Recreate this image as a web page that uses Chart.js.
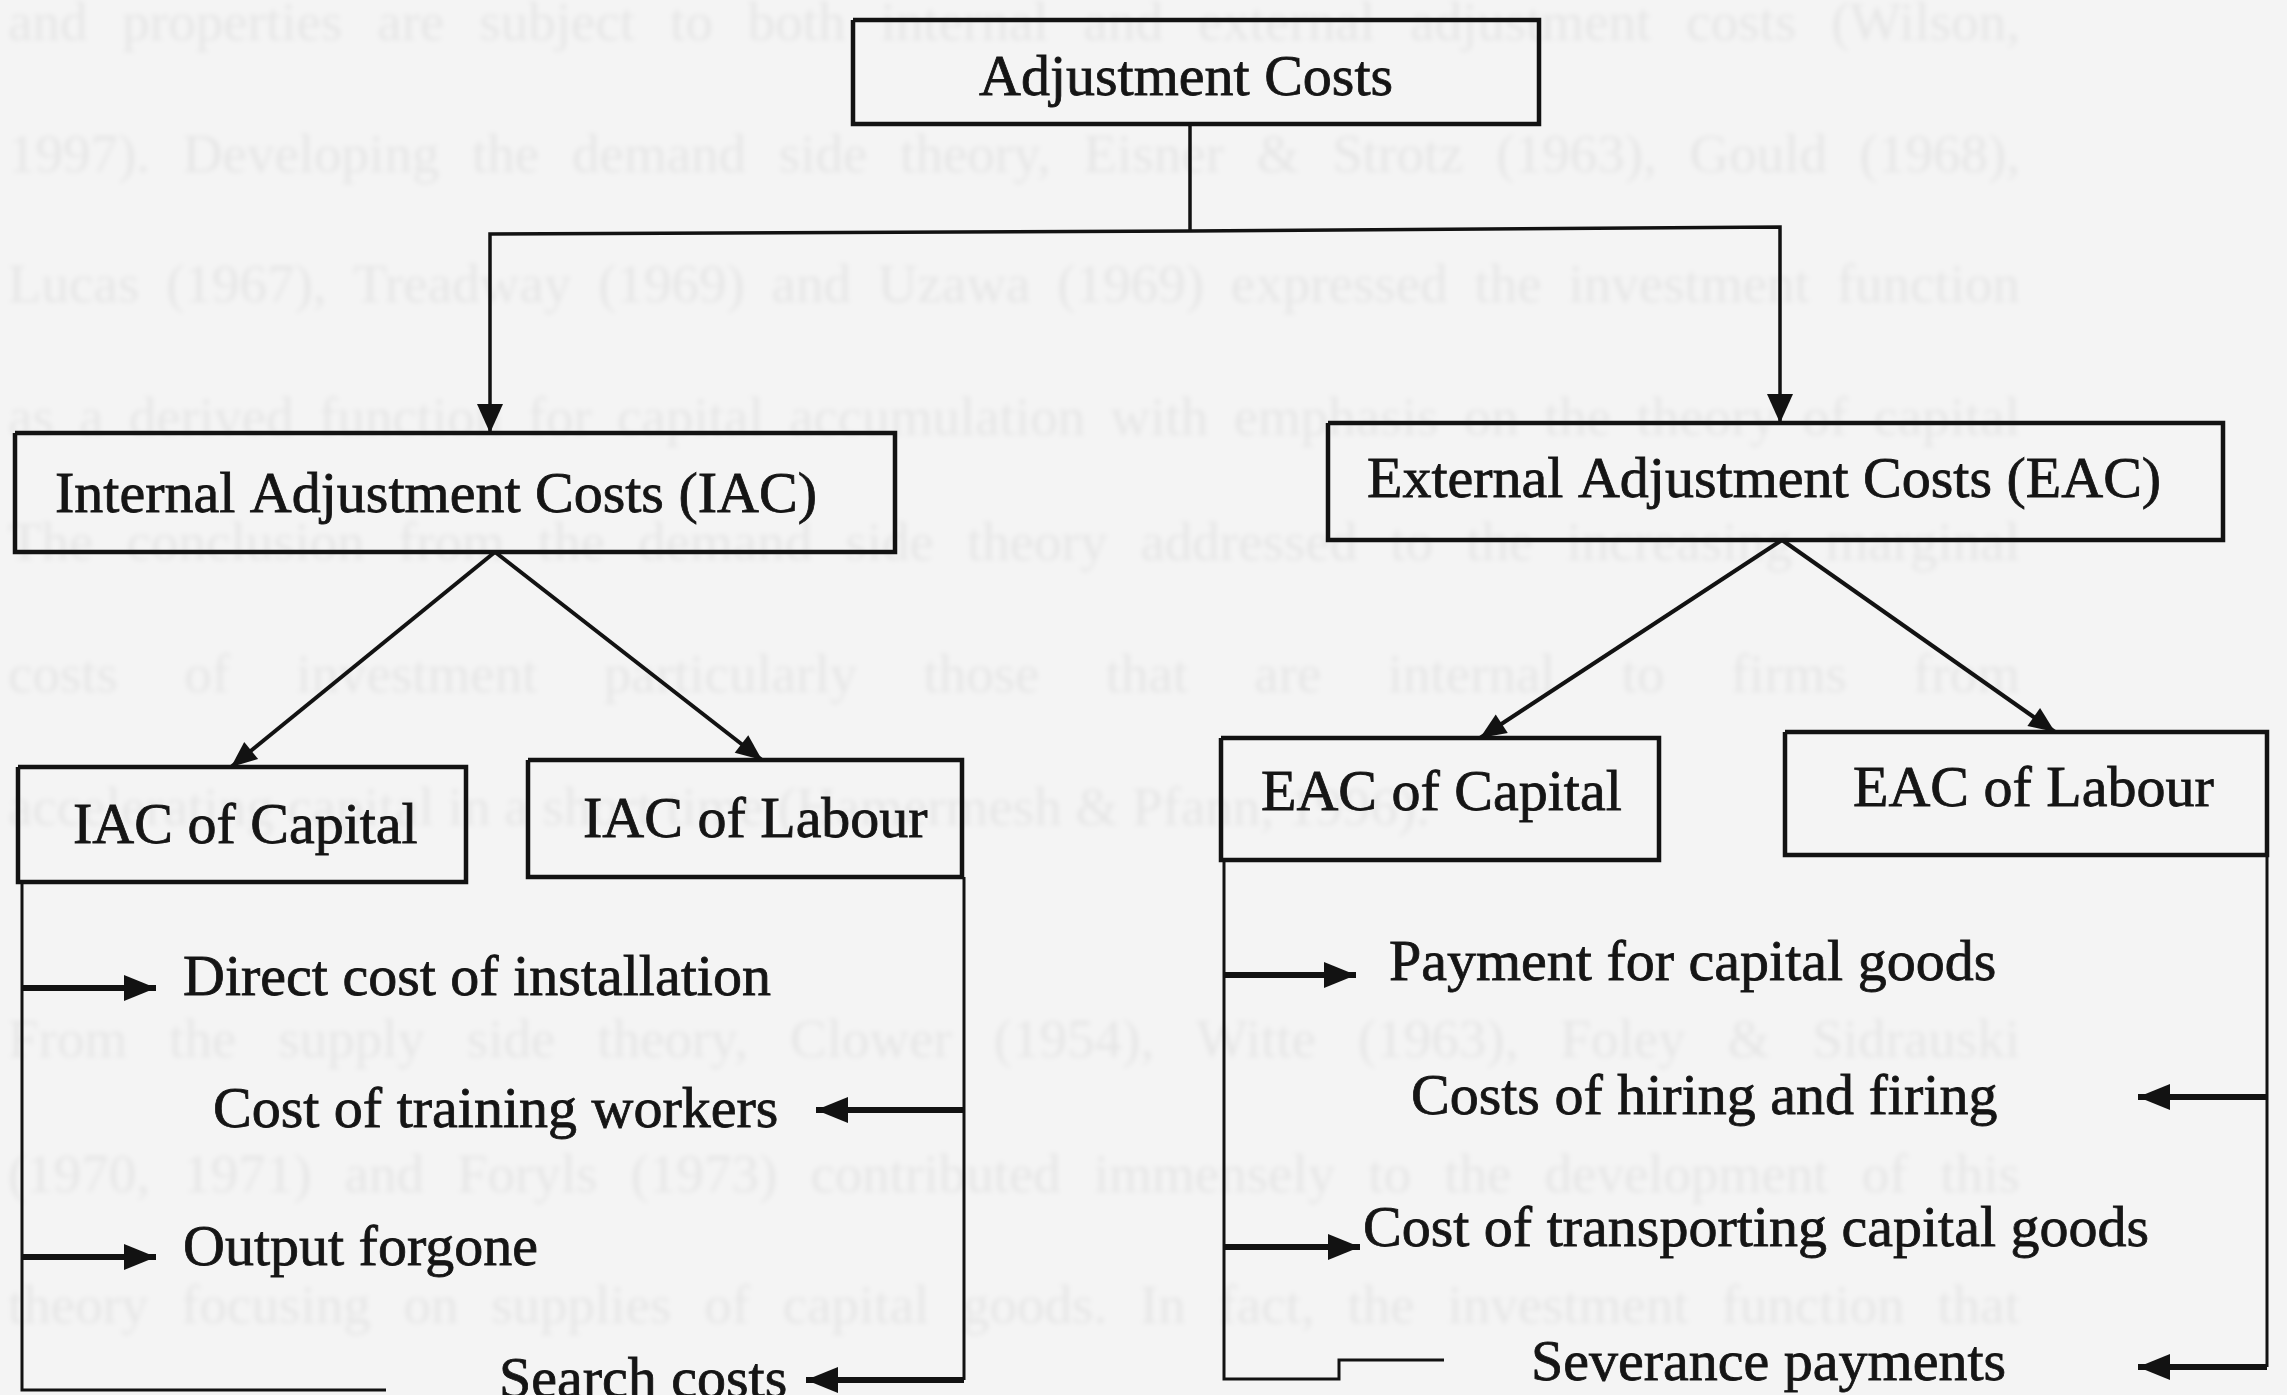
<!DOCTYPE html>
<html>
<head>
<meta charset="utf-8">
<script src="https://cdn.jsdelivr.net/npm/chart.js@4.4.1/dist/chart.umd.min.js"></script>
<style>
html,body{margin:0;padding:0;background:#f4f4f4;overflow:hidden}
canvas{display:block}
</style>
</head>
<body>
<canvas id="c" width="2287" height="1395"></canvas>
<script>
// ---------- DATA (diagram coordinates) ----------
const boxLabels = ['Adjustment Costs', 'Internal Adjustment Costs (IAC)', 'External Adjustment Costs (EAC)',
  'IAC of Capital', 'IAC of Labour', 'EAC of Capital', 'EAC of Labour'];
const boxLeft   = [853, 15, 1328, 18, 528, 1221, 1785];
const boxTop    = [20, 433, 423, 767, 760, 738, 732];
const boxRight  = [1539, 895, 2223, 466, 962, 1659, 2267];
const boxBottom = [124, 552, 540, 882, 877, 860, 855];
const boxTextX  = [979, 55, 1367, 73, 583, 1261, 1853];
const boxTextY  = [95, 512, 497, 843, 837, 810, 806];

// tree links: polylines, arrowhead at last point when branchArrow is true
const branchPaths = [
  [[1190, 124], [1190, 231]],
  [[1190, 231], [490, 234], [490, 433]],
  [[1190, 231], [1780, 227], [1780, 423]],
  [[495, 552], [231, 767]],
  [[495, 552], [762, 760]],
  [[1782, 540], [1480, 738]],
  [[1782, 540], [2055, 732]]
];
const branchArrow = [false, true, true, true, true, true, true];

// brackets under the sub-boxes
const bracketPaths = [
  [[22, 882], [22, 1390], [386, 1390]],
  [[964, 877], [964, 1380]],
  [[1224, 860], [1224, 1379], [1339, 1379], [1339, 1360], [1444, 1360]],
  [[2267, 855], [2267, 1367]]
];

// cost items
const itemLabels = ['Direct cost of installation', 'Cost of training workers', 'Output forgone', 'Search costs',
  'Payment for capital goods', 'Costs of hiring and firing', 'Cost of transporting capital goods', 'Severance payments'];
const itemTextX = [183, 213, 183, 499, 1389, 1411, 1363, 1531];
const itemTextY = [995, 1127, 1265, 1397, 980, 1114, 1246, 1380];
const itemFromX = [22, 964, 22, 964, 1224, 2267, 1224, 2267];
const itemToX   = [156, 816, 156, 806, 1356, 2138, 1360, 2138];
const itemY     = [988, 1110, 1257, 1380, 975, 1097, 1247, 1367];

// faint show-through text of the scanned page
const bgLines = [
  'and properties are subject to both internal and external adjustment costs (Wilson,',
  '1997). Developing the demand side theory, Eisner & Strotz (1963), Gould (1968),',
  'Lucas (1967), Treadway (1969) and Uzawa (1969) expressed the investment function',
  'as a derived function for capital accumulation with emphasis on the theory of capital',
  'The conclusion from the demand side theory addressed to the increasing marginal',
  'costs of investment particularly those that are internal to firms from',
  'accelerating capital in a short time (Hamermesh & Pfann, 1996).',
  'From the supply side theory, Clower (1954), Witte (1963), Foley & Sidrauski',
  '(1970, 1971) and Foryls (1973) contributed immensely to the development of this',
  'theory focusing on supplies of capital goods. In fact, the investment function that'
];
const bgBaseline = [40, 172, 302, 435, 560, 692, 825, 1057, 1192, 1323];
const bgJustified = [true, true, true, true, true, true, false, true, true, true];

// ---------- RENDERING ----------
const W = 2287, H = 1395;
const INK = '#121212';
const FONT = '58px "Liberation Serif", "Times New Roman", serif';

const pt = p => ({x: p[0], y: p[1]});
const datasets = [];

boxLabels.forEach((lab, i) => {
  datasets.push({
    label: lab,
    data: [[boxLeft[i], boxTop[i]], [boxRight[i], boxTop[i]], [boxRight[i], boxBottom[i]],
           [boxLeft[i], boxBottom[i]], [boxLeft[i], boxTop[i]]].map(pt),
    showLine: true, pointRadius: 0, borderWidth: 4.5, borderColor: INK,
    borderJoinStyle: 'miter', fill: false, tension: 0
  });
});
branchPaths.forEach((p, i) => {
  datasets.push({
    label: 'branch' + i, data: p.map(pt), showLine: true, pointRadius: 0,
    borderWidth: i < 3 ? 3.5 : 4, borderColor: INK, borderJoinStyle: 'miter', fill: false, tension: 0
  });
});
bracketPaths.forEach((p, i) => {
  datasets.push({
    label: 'bracket' + i, data: p.map(pt), showLine: true, pointRadius: 0,
    borderWidth: 3, borderColor: INK, borderJoinStyle: 'miter', fill: false, tension: 0
  });
});
itemLabels.forEach((lab, i) => {
  datasets.push({
    label: 'arrow ' + lab, data: [pt([itemFromX[i], itemY[i]]), pt([itemToX[i], itemY[i]])],
    showLine: true, pointRadius: 0, borderWidth: 6, borderColor: INK, fill: false, tension: 0
  });
});

function head(ctx, x0, y0, x1, y1, len, hw) {
  const dx = x1 - x0, dy = y1 - y0, L = Math.hypot(dx, dy), ux = dx / L, uy = dy / L;
  const bx = x1 - ux * len, by = y1 - uy * len;
  ctx.beginPath();
  ctx.moveTo(x1, y1);
  ctx.lineTo(bx - uy * hw, by + ux * hw);
  ctx.lineTo(bx + uy * hw, by - ux * hw);
  ctx.closePath();
  ctx.fill();
}

const diagramPlugin = {
  id: 'diagram',
  beforeDatasetsDraw(chart) {
    const ctx = chart.ctx, sx = chart.scales.x, sy = chart.scales.y;
    ctx.save();
    ctx.fillStyle = '#f4f4f4';
    ctx.fillRect(0, 0, chart.width, chart.height);
    // faint show-through text
    ctx.filter = 'blur(2.4px)';
    ctx.fillStyle = 'rgba(0,0,0,0.055)';
    ctx.font = '55px "Liberation Serif", "Times New Roman", serif';
    ctx.textBaseline = 'alphabetic';
    const left = sx.getPixelForValue(8), right = sx.getPixelForValue(2020);
    bgLines.forEach((line, i) => {
      const y = sy.getPixelForValue(bgBaseline[i]);
      const words = line.split(' ');
      const widths = words.map(w => ctx.measureText(w).width);
      const sum = widths.reduce((a, b) => a + b, 0);
      const space = ctx.measureText(' ').width;
      let gap = space;
      if (bgJustified[i] && words.length > 1) gap = (right - left - sum) / (words.length - 1);
      let x = left;
      const scale = gap < space * 0.5 ? (right - left) / (sum + space * (words.length - 1)) : 1;
      if (scale !== 1) gap = space * scale;
      words.forEach((w, k) => {
        ctx.fillText(w, x, y, widths[k] * scale);
        x += widths[k] * scale + gap;
      });
    });
    ctx.restore();
  },
  afterDatasetsDraw(chart) {
    const ctx = chart.ctx, sx = chart.scales.x, sy = chart.scales.y;
    const X = v => sx.getPixelForValue(v), Y = v => sy.getPixelForValue(v);
    ctx.save();
    ctx.fillStyle = INK;
    // arrowheads on tree links
    branchPaths.forEach((p, i) => {
      if (!branchArrow[i]) return;
      const a = p[p.length - 2], b = p[p.length - 1];
      const diag = a[0] !== b[0] && a[1] !== b[1];
      head(ctx, X(a[0]), Y(a[1]), X(b[0]), Y(b[1]), diag ? 26 : 29, diag ? 11 : 13);
    });
    // arrowheads on item arrows
    itemLabels.forEach((lab, i) => {
      head(ctx, X(itemFromX[i]), Y(itemY[i]), X(itemToX[i]), Y(itemY[i]), 32, 13);
    });
    // labels
    ctx.font = FONT;
    ctx.textBaseline = 'alphabetic';
    ctx.textAlign = 'left';
    ctx.fillStyle = '#151515';
    ctx.strokeStyle = '#151515';
    ctx.lineWidth = 0.8;
    const draw = (lab, x, y) => { ctx.fillText(lab, x, y); ctx.strokeText(lab, x, y); };
    boxLabels.forEach((lab, i) => draw(lab, X(boxTextX[i]), Y(boxTextY[i])));
    itemLabels.forEach((lab, i) => draw(lab, X(itemTextX[i]), Y(itemTextY[i])));
    ctx.restore();
  }
};

new Chart(document.getElementById('c'), {
  type: 'scatter',
  data: { datasets },
  options: {
    responsive: false,
    devicePixelRatio: 1,
    animation: false,
    events: [],
    layout: { padding: 0 },
    plugins: { legend: { display: false }, tooltip: { enabled: false }, title: { display: false } },
    scales: {
      x: { type: 'linear', min: 0, max: W, display: false },
      y: { type: 'linear', min: 0, max: H, reverse: true, display: false }
    }
  },
  plugins: [diagramPlugin]
});
</script>
</body>
</html>
